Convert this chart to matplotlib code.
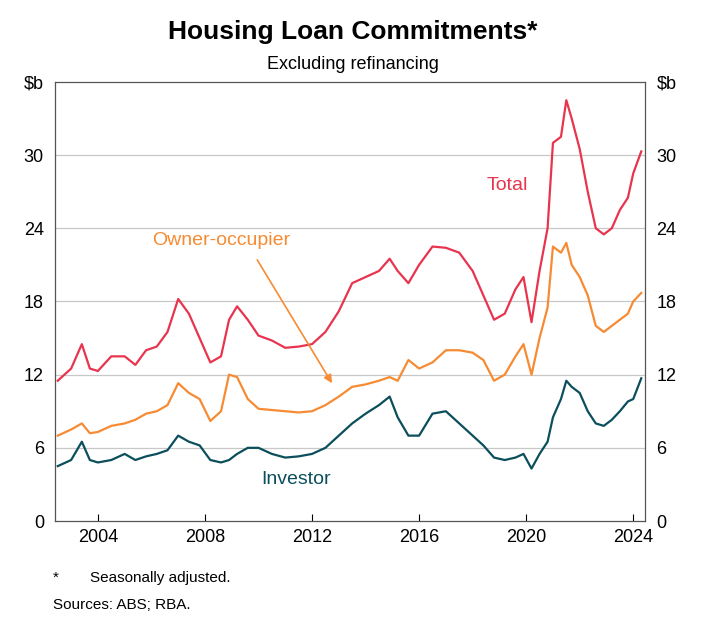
import matplotlib
matplotlib.use("Agg")
import matplotlib.pyplot as plt

dates = [2002.5,2003.0,2003.4,2003.7,2004.0,2004.5,2005.0,2005.4,2005.8,2006.2,2006.6,2007.0,2007.4,2007.8,2008.2,2008.6,2008.9,2009.2,2009.6,2010.0,2010.5,2011.0,2011.5,2012.0,2012.5,2013.0,2013.5,2014.0,2014.5,2014.9,2015.2,2015.6,2016.0,2016.5,2017.0,2017.5,2018.0,2018.4,2018.8,2019.2,2019.6,2019.9,2020.2,2020.5,2020.8,2021.0,2021.3,2021.5,2021.7,2022.0,2022.3,2022.6,2022.9,2023.2,2023.5,2023.8,2024.0,2024.3]
total = [11.5,12.5,14.5,12.5,12.3,13.5,13.5,12.8,14,14.3,15.5,18.2,17,15,13,13.5,16.5,17.6,16.5,15.2,14.8,14.2,14.3,14.5,15.5,17.2,19.5,20,20.5,21.5,20.5,19.5,21,22.5,22.4,22,20.5,18.5,16.5,17,19,20,16.3,20.5,24,31,31.5,34.5,33,30.5,27,24,23.5,24,25.5,26.5,28.5,30.3]
owner = [7,7.5,8,7.2,7.3,7.8,8,8.3,8.8,9,9.5,11.3,10.5,10,8.2,9,12,11.8,10,9.2,9.1,9,8.9,9,9.5,10.2,11,11.2,11.5,11.8,11.5,13.2,12.5,13,14,14,13.8,13.2,11.5,12,13.5,14.5,12,15,17.5,22.5,22,22.8,21,20,18.5,16,15.5,16,16.5,17,18,18.7]
investor = [4.5,5,6.5,5,4.8,5,5.5,5,5.3,5.5,5.8,7,6.5,6.2,5,4.8,5,5.5,6,6,5.5,5.2,5.3,5.5,6,7,8,8.8,9.5,10.2,8.5,7,7,8.8,9,8,7,6.2,5.2,5,5.2,5.5,4.3,5.5,6.5,8.5,10,11.5,11,10.5,9,8,7.8,8.3,9,9.8,10,11.7]
yticks = [0, 6, 12, 18, 24, 30]
xticks = [2004, 2008, 2012, 2016, 2020, 2024]

RED, ORANGE, TEAL = "#e8344e", "#f68b33", "#0b4f5c"
plt.rcParams["font.family"] = "Liberation Sans"
fig = plt.figure(figsize=(7.06, 6.3), dpi=100)
ax = fig.add_axes([0.078, 0.173, 0.836, 0.697])
for y in yticks[1:]:
    ax.axhline(y, color="#c8c8c8", lw=0.9, zorder=0)
ax.plot(dates, total, color=RED, lw=1.6)
ax.plot(dates, owner, color=ORANGE, lw=1.6)
ax.plot(dates, investor, color=TEAL, lw=1.6)
ax.set_xlim(2002.4, 2024.45)
ax.set_ylim(0, 36)
ax.set_yticks(yticks + [36])
ax.set_yticklabels([str(v) for v in yticks] + [r"\$b"], fontsize=13)
ax.set_xticks(xticks)
ax.set_xticklabels([str(v) for v in xticks], fontsize=13)
ax.tick_params(axis="y", length=0, pad=8, labelright=True, right=False)
ax.tick_params(axis="x", direction="in", length=5, pad=6)
for s in ax.spines.values():
    s.set_color("#555555"); s.set_linewidth(0.9)

ax.text(2019.3, 27.5, "Total", color=RED, fontsize=14, ha="center", va="center")
ax.text(2008.6, 23.0, "Owner-occupier", color=ORANGE, fontsize=14, ha="center", va="center")
ax.text(2011.4, 3.4, "Investor", color=TEAL, fontsize=14, ha="center", va="center")
ax.annotate("", xy=(2012.8, 11.1), xytext=(2009.9, 21.6),
            arrowprops=dict(arrowstyle="-|>", color=ORANGE, lw=1.2, mutation_scale=12))

fig.text(0.5, 0.95, "Housing Loan Commitments*", ha="center", va="center", fontsize=19, fontweight="bold")
fig.text(0.5, 0.897, "Excluding refinancing", ha="center", va="center", fontsize=13)
fig.text(0.075, 0.083, "*", fontsize=11, va="center")
fig.text(0.127, 0.083, "Seasonally adjusted.", fontsize=11, va="center")
fig.text(0.075, 0.039, "Sources: ABS; RBA.", fontsize=11, va="center")
fig.savefig("out.png", dpi=100)
